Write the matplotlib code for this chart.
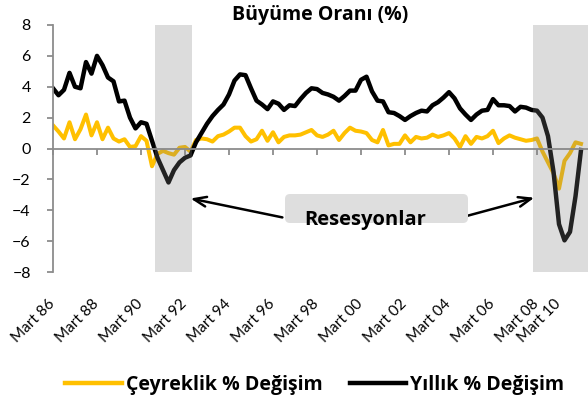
import numpy as np
import matplotlib
matplotlib.use('Agg')
import matplotlib.pyplot as plt
from matplotlib.patches import FancyBboxPatch
from matplotlib.lines import Line2D
import matplotlib.transforms as mtransforms

plt.rcParams['font.family'] = ['Lato', 'DejaVu Sans']
bold_font = ['Open Sans', 'DejaVu Sans']

# Quarterly growth, 1986 Q1 .. 2010 Q1
ceyreklik = [1.5, 1.1, 0.65, 1.7, 0.6, 1.25, 2.2, 0.85, 1.7, 0.6,
             1.35, 0.65, 0.45, 0.6, 0.1, 0.15, 0.8, 0.5, -1.15, -0.35,
             -0.15, -0.3, -0.4, 0.05, 0.1, -0.2, 0.55, 0.65, 0.6, 0.45,
             0.8, 0.9, 1.1, 1.35, 1.35, 0.8, 0.45, 0.6, 1.15, 0.5,
             1.05, 0.4, 0.75, 0.85, 0.85, 0.9, 1.05, 1.2, 0.85, 0.75,
             0.9, 1.15, 0.55, 1.0, 1.35, 1.15, 1.1, 1.0, 0.55, 0.4,
             1.2, 0.2, 0.3, 0.3, 0.85, 0.4, 0.75, 0.65, 0.7, 0.9,
             0.75, 0.85, 1.0, 0.65, 0.1, 0.8, 0.3, 0.75, 0.65, 0.8,
             1.15, 0.35, 0.65, 0.85, 0.7, 0.6, 0.5, 0.55, 0.65, -0.2,
             -0.9, -1.6, -2.6, -0.8, -0.3, 0.4, 0.3]
yillik = [3.9, 3.45, 3.8, 4.9, 4.0, 3.9, 5.6, 4.85, 6.0, 5.4,
          4.6, 4.35, 3.05, 3.1, 2.0, 1.3, 1.7, 1.6, 0.5, -0.6,
          -1.4, -2.2, -1.4, -0.9, -0.6, -0.45, 0.4, 1.0, 1.6, 2.1,
          2.5, 2.85, 3.5, 4.4, 4.8, 4.75, 3.9, 3.1, 2.85, 2.55,
          3.05, 2.9, 2.5, 2.8, 2.75, 3.2, 3.6, 3.9, 3.85, 3.6,
          3.5, 3.35, 3.1, 3.4, 3.75, 3.75, 4.45, 4.65, 3.7, 3.1,
          3.05, 2.35, 2.3, 2.1, 1.85, 2.1, 2.3, 2.45, 2.4, 2.8,
          3.0, 3.3, 3.65, 3.25, 2.6, 2.2, 1.85, 2.2, 2.45, 2.5,
          3.2, 2.8, 2.8, 2.75, 2.4, 2.7, 2.65, 2.5, 2.45, 2.0,
          0.8, -1.5, -4.9, -5.95, -5.4, -3.1, -0.1]
tick_labels = ['Mart 86', 'Mart 88', 'Mart 90', 'Mart 92', 'Mart 94',
               'Mart 96', 'Mart 98', 'Mart 00', 'Mart 02', 'Mart 04',
               'Mart 06', 'Mart 08', 'Mart 10']
# recession periods (in quarter index)
resesyonlar = [(18.55, 25.2), (87.3, 98.0)]

x = np.arange(len(yillik))

fig = plt.figure(figsize=(5.88, 4.0), dpi=100)
ax = fig.add_axes([53 / 588, 0.32, 1 - 53 / 588, 0.6175])

ax.plot(x, ceyreklik, color='#FFC000', lw=2.9, solid_joinstyle='round', zorder=2)
ax.plot(x, yillik, color='black', lw=3.2, solid_joinstyle='round', zorder=2.1)

for a, b in resesyonlar:
    ax.axvspan(a, b, color=(0.5, 0.5, 0.5), alpha=0.27, lw=0, zorder=3)

ax.set_xlim(0, (588 - 53) / 5.5)
ax.set_ylim(-8, 8)

axis_col = '#8c8c8c'
for s in ['top', 'right']:
    ax.spines[s].set_visible(False)
ax.spines['left'].set_color(axis_col)
ax.spines['left'].set_linewidth(1.3)
ax.spines['bottom'].set_position(('data', 0))
ax.spines['bottom'].set_color(axis_col)
ax.spines['bottom'].set_linewidth(1.3)

ax.set_yticks(np.arange(-8, 9, 2))
ax.tick_params(axis='y', length=4, width=1.3, color=axis_col, pad=12, labelsize=11.5)
ax.set_xticks(np.arange(0, len(yillik), 8))
ax.tick_params(axis='x', length=4, width=1.3, color=axis_col, labelbottom=False)

sec = ax.secondary_xaxis('bottom')
sec.set_xticks(np.arange(0, len(yillik), 8))
sec.set_xticklabels(tick_labels, rotation=45, ha='right', va='top', fontsize=11)
sec.tick_params(length=0, pad=18)
sec.spines['bottom'].set_visible(False)
for k, lab in enumerate(sec.get_xticklabels()):
    dx = 5 / 100 if k < len(tick_labels) - 1 else -17 / 100
    lab.set_transform(lab.get_transform() + mtransforms.ScaledTranslation(dx, 0, fig.dpi_scale_trans))

ax.set_title('Büyüme Oranı (%)', fontsize=14, fontweight='bold', family=bold_font, pad=3)

# annotation box + arrows
box = FancyBboxPatch((2.85, 1.77), 1.83, 0.29, boxstyle='round,pad=0,rounding_size=0.05',
                     transform=fig.dpi_scale_trans, fc='#dedede', ec='none', zorder=4)
fig.add_artist(box)
fig.text(3.655, 1.80, 'Resesyonlar', transform=fig.dpi_scale_trans, ha='center', va='center',
         fontsize=14.5, fontweight='bold', family=bold_font, zorder=5)
ax.annotate('', xy=(24.5, -3.2), xytext=(42.2, -4.5),
            arrowprops=dict(arrowstyle='->,head_length=0.9,head_width=0.35', lw=1.8, color='black'),
            zorder=5)
ax.annotate('', xy=(88.0, -3.14), xytext=(74.5, -4.44),
            arrowprops=dict(arrowstyle='->,head_length=0.9,head_width=0.35', lw=1.8, color='black'),
            zorder=5)

handles = [Line2D([], [], color='#FFC000', lw=3.2), Line2D([], [], color='black', lw=3.2)]
fig.legend(handles, ['Çeyreklik % Değişim', 'Yıllık % Değişim'], loc='center',
           bbox_to_anchor=(0.535, 0.0375), ncol=2, frameon=False,
           prop=dict(weight='bold', size=14, family=bold_font), handlelength=2.9,
           handletextpad=0.2, columnspacing=1.4)

fig.savefig('out.png', dpi=100)
